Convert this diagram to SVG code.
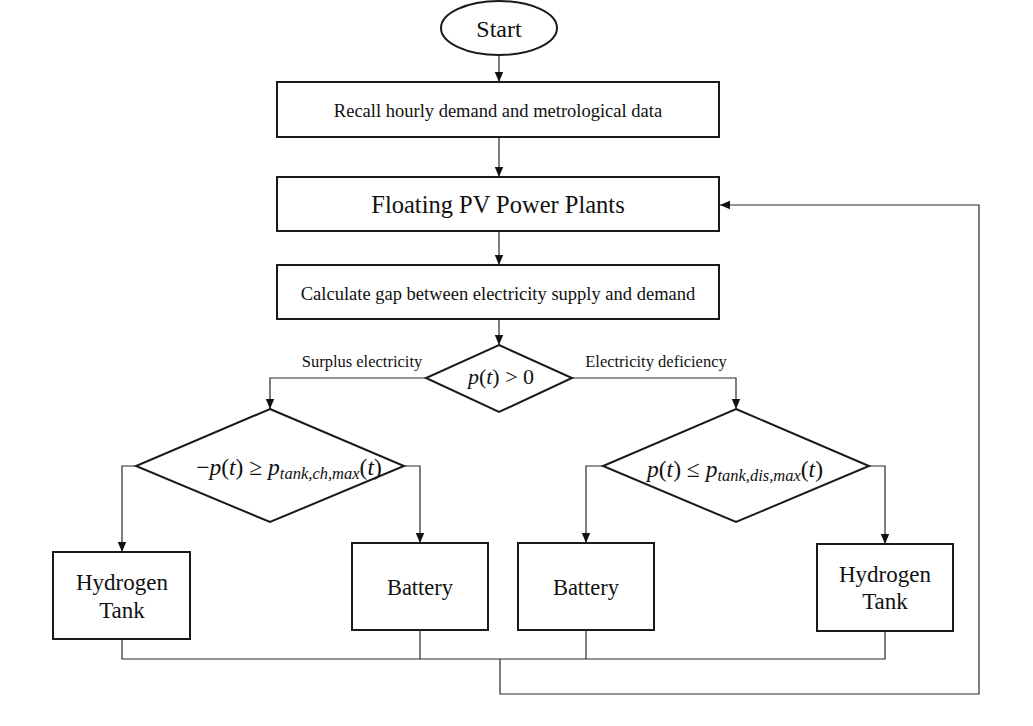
<svg xmlns="http://www.w3.org/2000/svg" width="1033" height="726" viewBox="0 0 1033 726">
<style>
.box{fill:#fff;stroke:#1a1a1a;stroke-width:2}
.conn{fill:none;stroke:#2a2a2a;stroke-width:1.2}
.t{font-family:"Liberation Serif","Times New Roman",serif;fill:#111;text-anchor:middle}
.m{font-family:"Liberation Serif","Times New Roman",serif;font-style:italic;fill:#111;text-anchor:middle}
</style>
<defs>
<marker id="ah" markerUnits="userSpaceOnUse" markerWidth="10" markerHeight="10" viewBox="0 0 10 10" refX="10" refY="5" orient="auto">
<path d="M0,0.8 L10,5 L0,9.2 Z" fill="#111"/>
</marker>
</defs>
<rect width="1033" height="726" fill="#fff"/>
<g id="connectors">
<line class="conn" x1="499" y1="55" x2="499" y2="82" marker-end="url(#ah)"/>
<line class="conn" x1="499" y1="137" x2="499" y2="177" marker-end="url(#ah)"/>
<line class="conn" x1="499" y1="231" x2="499" y2="265" marker-end="url(#ah)"/>
<line class="conn" x1="499" y1="319" x2="499" y2="345" marker-end="url(#ah)"/>
<polyline class="conn" points="426,378 270,378 270,409" marker-end="url(#ah)"/>
<polyline class="conn" points="572,378 736,378 736,409" marker-end="url(#ah)"/>
<polyline class="conn" points="136,466 122,466 122,552" marker-end="url(#ah)"/>
<polyline class="conn" points="404,466 420,466 420,543" marker-end="url(#ah)"/>
<polyline class="conn" points="603,466 586,466 586,543" marker-end="url(#ah)"/>
<polyline class="conn" points="869,466 885,466 885,544" marker-end="url(#ah)"/>
<polyline class="conn" points="122,639 122,659 885,659 885,631"/>
<line class="conn" x1="420" y1="630" x2="420" y2="659"/>
<line class="conn" x1="586" y1="630" x2="586" y2="659"/>
<polyline class="conn" points="500,659 500,694 979,694 979,205 720,205" marker-end="url(#ah)"/>
<text class="t" x="362" y="367" font-size="16.5">Surplus electricity</text>
<text class="t" x="656" y="367" font-size="16.5">Electricity  deficiency</text>
</g>
<g id="start">
<ellipse cx="499" cy="28" rx="58" ry="27" class="box"/>
<text class="t" x="499" y="37" font-size="24">Start</text>
</g>
<g id="recall">
<rect class="box" x="277" y="82" width="442" height="55"/>
<text class="t" x="498" y="117" font-size="18.5">Recall  hourly demand and metrological  data</text>
</g>
<g id="floating">
<rect class="box" x="277" y="177" width="442" height="54"/>
<text class="t" x="498" y="213" font-size="24.5">Floating PV Power Plants</text>
</g>
<g id="calculate">
<rect class="box" x="277" y="265" width="442" height="54"/>
<text class="t" x="498" y="300" font-size="18.5">Calculate gap between electricity  supply and demand</text>
</g>
<g id="decision-main">
<polygon class="box" points="499,345 572,378 499,412 426,378"/>
<text class="m" x="501" y="384" font-size="22">p<tspan font-style="normal">(</tspan>t<tspan font-style="normal">) &gt; 0</tspan></text>
</g>
<g id="decision-surplus">
<polygon class="box" points="270,409 404,466 270,522 136,466"/>
<text class="m" x="289" y="475" font-size="23.5"><tspan font-style="normal">−</tspan>p<tspan font-style="normal">(</tspan>t<tspan font-style="normal">) ≥ </tspan>p<tspan font-size="16.5" baseline-shift="-4">tank,ch,max</tspan><tspan font-style="normal">(</tspan>t<tspan font-style="normal">)</tspan></text>
</g>
<g id="decision-deficiency">
<polygon class="box" points="736,409 869,466 736,522 603,466"/>
<text class="m" x="735" y="477" font-size="23.5">p<tspan font-style="normal">(</tspan>t<tspan font-style="normal">) ≤ </tspan>p<tspan font-size="16.5" baseline-shift="-4">tank,dis,max</tspan><tspan font-style="normal">(</tspan>t<tspan font-style="normal">)</tspan></text>
</g>
<g id="hydrogen-left">
<rect class="box" x="53" y="552" width="137" height="87"/>
<text class="t" x="122" y="590" font-size="23">Hydrogen</text>
<text class="t" x="122" y="618" font-size="23">Tank</text>
</g>
<g id="battery-left">
<rect class="box" x="352" y="543" width="136" height="87"/>
<text class="t" x="420" y="595" font-size="22.5">Battery</text>
</g>
<g id="battery-right">
<rect class="box" x="518" y="543" width="136" height="87"/>
<text class="t" x="586" y="595" font-size="22.5">Battery</text>
</g>
<g id="hydrogen-right">
<rect class="box" x="817" y="544" width="136" height="87"/>
<text class="t" x="885" y="582" font-size="23">Hydrogen</text>
<text class="t" x="885" y="609" font-size="23">Tank</text>
</g>
</svg>
